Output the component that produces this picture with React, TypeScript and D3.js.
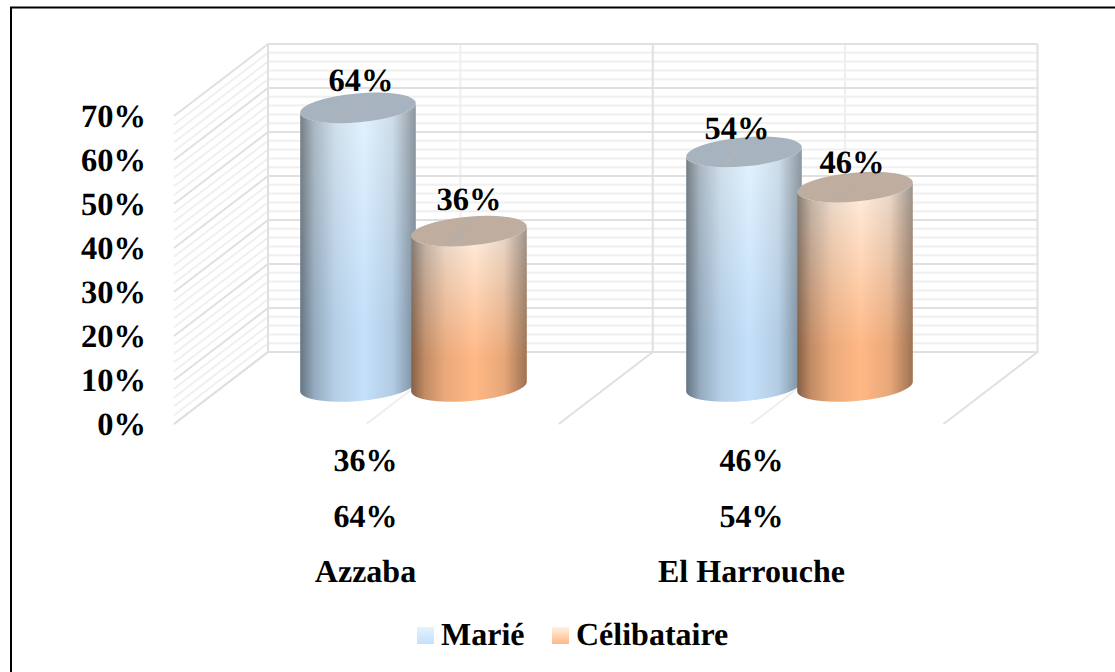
import React from "react";
import * as d3 from "d3";

const categories = ["Azzaba", "El Harrouche"];
const seriesNames = ["Marié", "Célibataire"];
const marie = [64, 54];
const celibataire = [36, 46];
const majorTicks = [0, 10, 20, 30, 40, 50, 60, 70];
const minorTicks = d3.range(0, 70, 2).filter((v) => v % 10 !== 0);

const W = 1115, H = 672;
const y = d3.scaleLinear().domain([0, 70]).range([424, 116]);
const depthX = 94, depthY = -72;
const wallLeft = 174, wallRight = 943.5;
const xFloor = d3.scaleLinear().domain([0, 4]).range([wallLeft, wallRight]);
const xCat = d3.scaleBand().domain(categories).range([220.5, 992.5]);
const xSeries = d3.scaleBand().domain(seriesNames).range([-111, 111]);
const yBar = d3.scaleLinear().domain([0, 70]).range([389.5, 81.5]);

const RX = 58, RY = 14.5, TILT = -5;
const BASE_LIFT = 3;
const c = Math.cos((TILT * Math.PI) / 180), s = Math.sin((TILT * Math.PI) / 180);

// Label and cap-tick nudges, per series then category, as placed in the reference
const labelNudge = [
  [{ dx: 3, dy: -17 }, { dx: -7, dy: -13 }],
  [{ dx: 0, dy: -21 }, { dx: -3, dy: -14 }],
];
const tickEnd = [
  [{ dx: 5, dy: -7 }, { dx: -8, dy: -1 }],
  [{ dx: 1, dy: -10 }, { dx: -2, dy: -1 }],
];

function bodyPath(cx: number, top: number, base: number) {
  const dx = RX * c, dy = RX * s;
  return `M${cx - dx},${top - dy} L${cx - dx},${base - dy} A${RX},${RY} ${TILT} 0 0 ${cx + dx},${base + dy} L${cx + dx},${top + dy} A${RX},${RY} ${TILT} 0 1 ${cx - dx},${top - dy} Z`;
}

const serif = "'Liberation Serif', serif";
const grid = "#e0e0e0";
const minor = "#f0f0f0";

const palette = [
  { id: "blue", top: "#e3f3ff", bottom: "#c4e0fa", cap: "#a7b4bf", tick: "#bdb3aa" },
  { id: "orange", top: "#fff0e2", bottom: "#ffb885", cap: "#bfae9f", tick: "#a9b2b9" },
];

export default function App() {
  const values = [marie, celibataire];
  return (
    <svg width={W} height={H} style={{ position: "absolute", left: 0, top: 0, background: "#fff" }} fontFamily={serif} textRendering="geometricPrecision">
      <defs>
        {palette.map((p) => (
          <linearGradient key={p.id} id={p.id} x1="0" y1="0" x2="0" y2="1">
            <stop offset="0" stopColor={p.top} />
            <stop offset="0.75" stopColor={p.bottom} />
            <stop offset="1" stopColor={p.bottom} />
          </linearGradient>
        ))}
        {palette.map((p) => (
          <linearGradient key={p.id + "L"} id={p.id + "L"} x1="0" y1="0" x2="0" y2="1">
            <stop offset="0" stopColor={p.top} />
            <stop offset="1" stopColor={p.bottom} />
          </linearGradient>
        ))}
        <linearGradient id="shade" x1="0" y1="0" x2="1" y2="0">
          <stop offset="0" stopColor="#000" stopOpacity="0.48" />
          <stop offset="0.12" stopColor="#000" stopOpacity="0.24" />
          <stop offset="0.3" stopColor="#000" stopOpacity="0.08" />
          <stop offset="0.55" stopColor="#000" stopOpacity="0" />
          <stop offset="0.8" stopColor="#000" stopOpacity="0.09" />
          <stop offset="1" stopColor="#000" stopOpacity="0.38" />
        </linearGradient>
      </defs>

      <path d={`M11,${H} V7.5 H${W}`} fill="none" stroke="#000" strokeWidth={2} />

      {minorTicks.map((v) => (
        <path key={v} d={`M${wallLeft},${y(v)} l${depthX},${depthY} L${wallRight + depthX},${y(v) + depthY}`} stroke={minor} strokeWidth={2} fill="none" />
      ))}
      {[1, 3].map((i) => (
        <path key={i} d={`M${xFloor(i)},${y(0)} l${depthX},${depthY} V${y(70) + depthY}`} stroke="#eeeeee" strokeWidth={2} fill="none" />
      ))}
      {majorTicks.map((v) => (
        <path key={v} d={`M${wallLeft},${y(v)} l${depthX},${depthY} L${wallRight + depthX},${y(v) + depthY}`} stroke={grid} strokeWidth={2} fill="none" />
      ))}
      {[0, 2, 4].map((i) => (
        <path key={i} d={`M${xFloor(i)},${y(0)} l${depthX},${depthY} V${y(70) + depthY}`} stroke={grid} strokeWidth={2} fill="none" />
      ))}

      {majorTicks.map((v) => (
        <text key={v} x={146} y={y(v) + 11} textAnchor="end" fontSize={32.5} fontWeight="bold">{v}%</text>
      ))}

      {categories.map((cat, ci) =>
        seriesNames.map((sn, si) => {
          const v = values[si][ci];
          const cx = xCat(cat)! + xCat.bandwidth() / 2 + xSeries(sn)! + xSeries.bandwidth() / 2;
          const top = yBar(v), base = yBar(0) - BASE_LIFT;
          const p = palette[si];
          const d = bodyPath(cx, top, base);
          const n = labelNudge[si][ci];
          const t = tickEnd[si][ci];
          return (
            <g key={sn + cat}>
              <path d={d} fill={`url(#${p.id})`} />
              <path d={d} fill="url(#shade)" />
              <ellipse cx={cx} cy={top} rx={RX} ry={RY} transform={`rotate(${TILT} ${cx} ${top})`} fill={p.cap} />
              <line x1={cx - 19} y1={top + 13} x2={cx + t.dx} y2={top + t.dy} stroke={p.tick} strokeWidth={1.2} />
              <text x={cx + n.dx} y={top + n.dy} textAnchor="middle" fontSize={32.5} fontWeight="bold">{v}%</text>
            </g>
          );
        })
      )}

      {categories.map((cat, ci) => {
        const cx = xCat(cat)! + xCat.bandwidth() / 2 - 48;
        return (
          <g key={cat} fontWeight="bold" textAnchor="middle" fontSize={32}>
            <text x={cx} y={471}>{celibataire[ci]}%</text>
            <text x={cx} y={527}>{marie[ci]}%</text>
            <text x={cx} y={582}>{cat}</text>
          </g>
        );
      })}

      {seriesNames.map((sn, i) => {
        const sx = [417, 552][i];
        return (
          <g key={sn}>
            <rect x={sx} y={627} width={17} height={17} fill={`url(#${palette[i].id}L)`} />
            <text x={sx + 24} y={645} fontSize={32} fontWeight="bold">{sn}</text>
          </g>
        );
      })}
    </svg>
  );
}
